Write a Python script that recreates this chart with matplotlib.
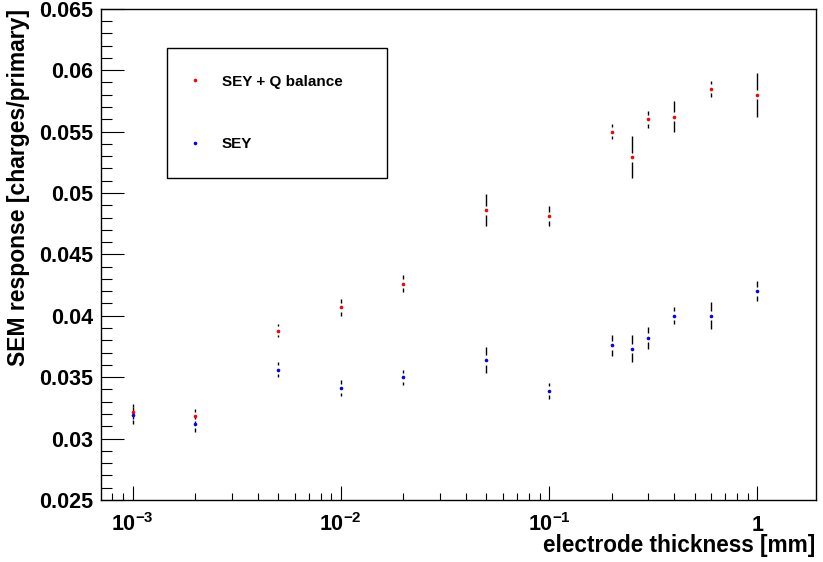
import numpy as np
import matplotlib
matplotlib.use("Agg")
import matplotlib.pyplot as plt
from matplotlib.ticker import FixedLocator, FixedFormatter, LogLocator, MultipleLocator, FuncFormatter, NullFormatter

plt.rcParams["font.family"] = ["Liberation Sans", "DejaVu Sans"]
plt.rcParams["font.weight"] = "bold"
plt.rcParams["mathtext.fontset"] = "custom"
plt.rcParams["mathtext.rm"] = "Liberation Sans:bold"
plt.rcParams["mathtext.bf"] = "Liberation Sans:bold"
plt.rcParams["mathtext.default"] = "bf"

# electrode thickness [mm]
thickness = [0.001, 0.002, 0.005, 0.01, 0.02, 0.05, 0.1, 0.2, 0.25, 0.3, 0.4, 0.6, 1.0]

# SEM response, SEY + charge balance
sey_q = [0.0322, 0.0318, 0.0388, 0.0407, 0.0426, 0.0486, 0.0481,
         0.0550, 0.0529, 0.0560, 0.0562, 0.0585, 0.0580]
sey_q_err = [0.0006, 0.0006, 0.00055, 0.0007, 0.0007, 0.0013, 0.0008,
             0.0006, 0.0017, 0.0007, 0.00125, 0.00065, 0.0018]

# SEM response, SEY only
sey = [0.0319, 0.0312, 0.0356, 0.0341, 0.0350, 0.0364, 0.0339,
       0.0376, 0.0373, 0.0382, 0.0400, 0.0400, 0.0420]
sey_err = [0.0007, 0.00065, 0.0006, 0.00065, 0.0006, 0.00105, 0.00065,
           0.00085, 0.0011, 0.0009, 0.0007, 0.0011, 0.0008]

series_labels = ["SEY + Q balance", "SEY"]
series_colors = ["#ff0000", "#0000ff"]

x_ticks = [1e-3, 1e-2, 1e-1, 1.0]
x_tick_labels = [r"$10^{-3}$", r"$10^{-2}$", r"$10^{-1}$", "1"]

fig = plt.figure(figsize=(8.23, 5.62), dpi=100)
ax = fig.add_axes([0.1227, 0.1103, 0.9915 - 0.1227, 0.9845 - 0.1103])

ax.set_xscale("log")
ax.set_xlim(7.05e-4, 1.915)
ax.set_ylim(0.025, 0.065)

# error bars drawn with a small gap around each marker
gap = 0.00037
x_arr = np.asarray(thickness)
for vals, errs in [(sey_q, sey_q_err), (sey, sey_err)]:
    v = np.asarray(vals)
    e = np.asarray(errs)
    m = e > gap
    ax.vlines(x_arr[m], v[m] + gap, v[m] + e[m], colors="black", linewidth=1.0)
    ax.vlines(x_arr[m], v[m] - e[m], v[m] - gap, colors="black", linewidth=1.0)

handles = []
for vals, lab, col in zip([sey_q, sey], series_labels, series_colors):
    h, = ax.plot(thickness, vals, linestyle="none", marker="o", markersize=2.6,
                 markeredgewidth=0, color=col, label=lab, zorder=3)
    handles.append(h)

# ticks
ax.xaxis.set_major_locator(FixedLocator(x_ticks))
ax.xaxis.set_major_formatter(FixedFormatter(x_tick_labels))
ax.xaxis.set_minor_locator(LogLocator(base=10, subs=np.arange(2, 10), numticks=50))
ax.xaxis.set_minor_formatter(NullFormatter())
ax.yaxis.set_major_locator(MultipleLocator(0.005))
ax.yaxis.set_minor_locator(MultipleLocator(0.001))
ax.yaxis.set_major_formatter(FuncFormatter(lambda v, p: "%g" % round(v, 4)))

ax.tick_params(axis="both", which="both", direction="in", top=False, right=False,
               width=0.8, color="black")
ax.tick_params(axis="x", which="major", length=10, pad=22.3, labelsize=15.5)
ax.tick_params(axis="x", which="minor", length=5)
ax.tick_params(axis="y", which="major", length=16.3, pad=5.5, labelsize=15.5)
ax.tick_params(axis="y", which="minor", length=8)
for lbl in ax.get_xticklabels():
    lbl.set_verticalalignment("baseline")

for sp in ax.spines.values():
    sp.set_linewidth(1.0)
    sp.set_color("black")

fig.text(815 / 823, 1 - 552 / 562, "electrode thickness [mm]", ha="right",
         va="baseline", fontsize=16.3, fontweight="bold")
fig.text(19 / 823, 1 - 9 / 562, "SEM response [charges/primary]", rotation=90,
         ha="center", va="top", fontsize=16.5, fontweight="bold")

leg = ax.legend(handles=handles, loc="upper left",
                bbox_to_anchor=(167 / 823, 1 - 47.7 / 562, 220 / 823, 0.0),
                bbox_transform=fig.transFigure, mode="expand",
                fontsize=11, frameon=True, fancybox=False, framealpha=1,
                edgecolor="black", borderpad=1.76, labelspacing=3.18,
                handlelength=0.15, handletextpad=1.67, borderaxespad=0,
                markerscale=1.0)
leg.get_frame().set_linewidth(1.0)

fig.savefig("out.png", dpi=100)
